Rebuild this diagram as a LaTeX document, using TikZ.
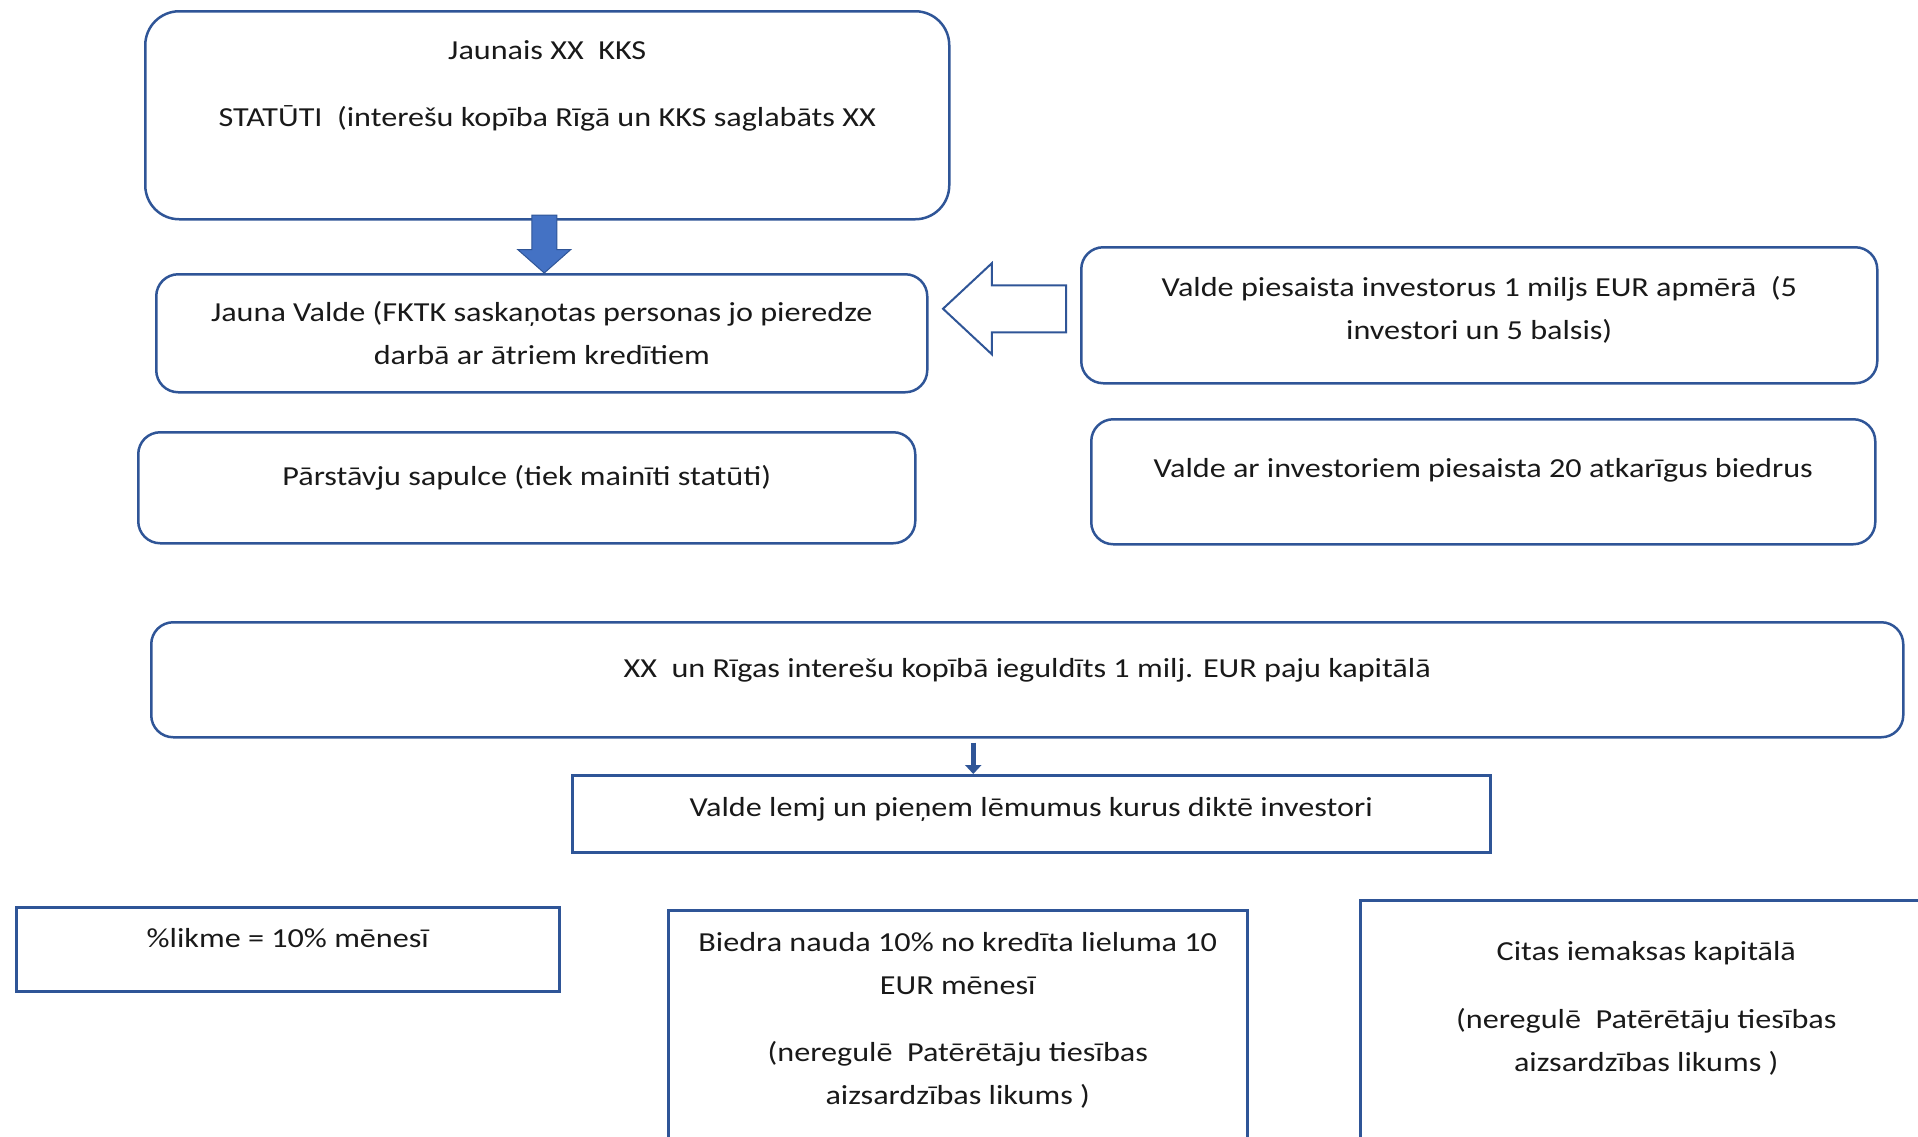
\documentclass[tikz,border=0pt]{standalone}
\usepackage{fontspec}
\setmainfont{Carlito}[FakeStretch=1.17]
\usepackage{xcolor}
\usepackage{tikz}
\usetikzlibrary{positioning,calc,shapes.arrows,arrows.meta}

\definecolor{boxblue}{HTML}{2F5597}
\definecolor{fillblue}{HTML}{4472C4}

\begin{document}
\begin{tikzpicture}[x=1pt,y=-1pt,
		rbox/.style={draw=boxblue, line width=2.5pt, rounded corners=22pt, anchor=north west, inner sep=0pt},
		sbox/.style={draw=boxblue, line width=2.5pt, anchor=north west, inner sep=0pt},
		txt/.style={align=center, inner sep=0pt, text=black!90, font=\fontsize{27.5pt}{43pt}\selectfont},
		downarrow/.style={single arrow, shape border rotate=270, draw=boxblue, fill=fillblue, line width=1pt,
			inner sep=12pt, minimum height=58pt, single arrow head extend=14pt, single arrow tip angle=97},
		hollowarrow/.style={single arrow, shape border rotate=180, draw=boxblue, fill=white, line width=2pt,
			inner sep=22.5pt, minimum height=123pt, single arrow head extend=22pt, single arrow tip angle=86},
		linkarrow/.style={draw=boxblue, line width=5pt, -{Triangle[width=16pt,length=9pt]}}]
		\clip (0,0) rectangle (1918,1136);

		\node[rbox, rounded corners=34pt, minimum width=804pt, minimum height=208pt] (statuti) at (144,10) {};
		\node[txt, below=116pt of statuti.north, anchor=base] (statutit) {Jaunais XX\ \ KKS\\[24pt]STATŪTI\ \ (interešu kopība Rīgā un KKS saglabāts XX};

		\node[rbox, minimum width=771pt, minimum height=118pt] (valde) at (155,273) {};
		\node[txt, below=91pt of valde.north, anchor=base] (valdet) {Jauna Valde (FKTK saskaņotas personas jo pieredze\\darbā ar ātriem kredītiem};

		\node[rbox, minimum width=796pt, minimum height=136pt] (investori) at (1080,246) {};
		\node[txt, below=93pt of investori.north, anchor=base] (investorit) {Valde piesaista investorus 1 miljs EUR apmērā\ \ (5\\investori un 5 balsis)};

		\node[rbox, minimum width=777pt, minimum height=111pt] (sapulce) at (137,431) {};
		\node[txt, below=54pt of sapulce.north, anchor=base] (sapulcet) {Pārstāvju sapulce (tiek mainīti statūti)};

		\node[rbox, minimum width=784pt, minimum height=125pt] (biedri) at (1090,418) {};
		\node[txt, below=59pt of biedri.north, anchor=base] (biedrit) {Valde ar investoriem piesaista 20 atkarīgus biedrus};

		\node[rbox, minimum width=1752pt, minimum height=115pt] (kapitals) at (150,621) {};
		\node[txt, below=56pt of kapitals.north, anchor=base] (kapitalst) {XX\ \ un Rīgas interešu kopībā ieguldīts 1 milj. EUR paju kapitālā};

		\node[sbox, minimum width=918pt, minimum height=77pt] (lemj) at (571,774) {};
		\node[txt, below=42pt of lemj.north, anchor=base] (lemjt) {Valde lemj un pieņem lēmumus kurus diktē investori};

		\node[sbox, minimum width=543pt, minimum height=84pt] (likme) at (15,906) {};
		\node[txt, below=41pt of likme.north, anchor=base] (likmet) {\%likme = 10\% mēnesī};

		\node[sbox, minimum width=579pt, minimum height=260pt] (nauda) at (667,909) {};
		\node[txt, below=195pt of nauda.north, anchor=base] (naudat) {Biedra nauda 10\% no kredīta lieluma 10\\EUR mēnesī\\[24pt](neregulē\ \ Patērētāju tiesības\\aizsardzības likums )};

		\node[sbox, minimum width=572pt, minimum height=270pt] (iemaksas) at (1359,899) {};
		\node[txt, below=172pt of iemaksas.north, anchor=base] (iemaksast) {Citas iemaksas kapitālā\\[25pt](neregulē\ \ Patērētāju tiesības\\aizsardzības likums )};

		\node[downarrow, anchor=tail] (lejup) at ($(statuti.south)+(-3,-6)$) {};
		\node[hollowarrow, anchor=tail] (pieplusms) at ($(investori.west)+(-13,-6.5)$) {};

		\coordinate (lemjin) at ($(lemj.north)+(-58,0)$);
		\draw[linkarrow, shorten <=4pt] (lemjin |- kapitals.south) -- (lemjin);
	\end{tikzpicture}
\end{document}
